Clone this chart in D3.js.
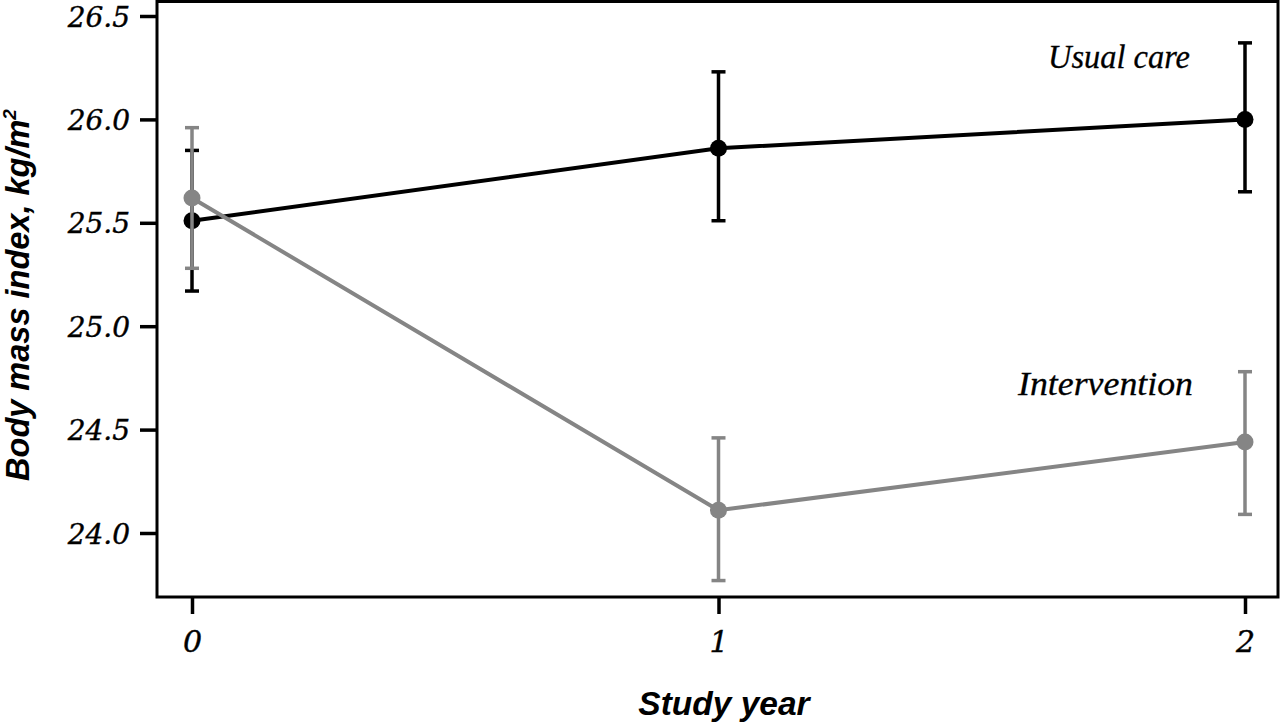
<!DOCTYPE html>
<html>
<head>
<meta charset="utf-8">
<script src="https://cdn.jsdelivr.net/npm/d3@7"></script>
<style>
  html, body { margin: 0; padding: 0; background: #fff; }
  svg { display: block; }
</style>
</head>
<body>
<svg id="chart" width="1280" height="723"></svg>
<script>
// ---- data ----
const years = [0, 1, 2];
const usualMean = [25.51, 25.86, 26.00];
const usualLow  = [25.17, 25.51, 25.65];
const usualHigh = [25.85, 26.23, 26.37];
const interMean = [25.62, 24.11, 24.44];
const interLow  = [25.28, 23.77, 24.09];
const interHigh = [25.96, 24.46, 24.78];
const yTickValues = [24.0, 24.5, 25.0, 25.5, 26.0, 26.5];
const xTickValues = [0, 1, 2];
const seriesNames = ["Usual care", "Intervention"];

const svg = d3.select("#chart");

const frame = { left: 157, right: 1278, top: 1.5, bottom: 597 };
const x = d3.scaleLinear().domain([0, 2]).range([192, 1245]);
const y = d3.scaleLinear().domain([24, 26.5]).range([533, 16]);

// frame
svg.append("rect")
  .attr("x", frame.left).attr("y", frame.top)
  .attr("width", frame.right - frame.left).attr("height", frame.bottom - frame.top)
  .attr("fill", "none").attr("stroke", "#000").attr("stroke-width", 3);

// y axis
const yAxis = d3.axisLeft(y).tickValues(yTickValues).tickFormat(d3.format(".1f"))
  .tickSize(17).tickPadding(10);
const gy = svg.append("g").attr("transform", `translate(${frame.left},0)`).call(yAxis);
gy.select(".domain").remove();
gy.selectAll(".tick line").attr("stroke", "#000").attr("stroke-width", 3.5);
gy.selectAll(".tick text")
  .attr("font-family", "DejaVu Serif").attr("font-style", "italic")
  .attr("font-size", 28).attr("fill", "#000").attr("dy", "0.36em")
  .attr("stroke", "#000").attr("stroke-width", 0.4);

// x axis
const xAxis = d3.axisBottom(x).tickValues(xTickValues).tickFormat(d3.format("d"))
  .tickSize(17).tickPadding(14);
const gx = svg.append("g").attr("transform", `translate(0,${frame.bottom})`).call(xAxis);
gx.select(".domain").remove();
gx.selectAll(".tick line").attr("stroke", "#000").attr("stroke-width", 3.5);
gx.selectAll(".tick text")
  .attr("font-family", "DejaVu Serif").attr("font-style", "italic")
  .attr("font-size", 30).attr("fill", "#000").attr("dy", "0.8em")
  .attr("stroke", "#000").attr("stroke-width", 0.4);

// series
function drawSeries(means, lows, highs, color, lw) {
  const g = svg.append("g");
  const pts = years.map((yr, i) => ({ yr, m: means[i], lo: lows[i], hi: highs[i] }));
  g.append("path")
    .datum(pts)
    .attr("d", d3.line().x(d => x(d.yr)).y(d => y(d.m)))
    .attr("fill", "none").attr("stroke", color).attr("stroke-width", lw);
  g.selectAll(".eb").data(pts).enter().append("line")
    .attr("x1", d => x(d.yr)).attr("x2", d => x(d.yr))
    .attr("y1", d => y(d.lo)).attr("y2", d => y(d.hi))
    .attr("stroke", color).attr("stroke-width", 3.5);
  g.selectAll(".capHi").data(pts).enter().append("line")
    .attr("x1", d => x(d.yr) - 7).attr("x2", d => x(d.yr) + 7)
    .attr("y1", d => y(d.hi)).attr("y2", d => y(d.hi))
    .attr("stroke", color).attr("stroke-width", 3.5);
  g.selectAll(".capLo").data(pts).enter().append("line")
    .attr("x1", d => x(d.yr) - 7).attr("x2", d => x(d.yr) + 7)
    .attr("y1", d => y(d.lo)).attr("y2", d => y(d.lo))
    .attr("stroke", color).attr("stroke-width", 3.5);
  g.selectAll("circle").data(pts).enter().append("circle")
    .attr("cx", d => x(d.yr)).attr("cy", d => y(d.m)).attr("r", 8.5)
    .attr("fill", color);
}
drawSeries(usualMean, usualLow, usualHigh, "#000", 4);
drawSeries(interMean, interLow, interHigh, "#858585", 4);

// series labels
svg.append("text").text(seriesNames[0])
  .attr("x", 1190).attr("y", 68).attr("text-anchor", "end")
  .attr("font-family", "Liberation Serif").attr("font-style", "italic")
  .attr("font-size", 34).attr("textLength", 142).attr("lengthAdjust", "spacingAndGlyphs")
  .attr("fill", "#000").attr("stroke", "#000").attr("stroke-width", 0.3);
svg.append("text").text(seriesNames[1])
  .attr("x", 1193).attr("y", 395).attr("text-anchor", "end")
  .attr("font-family", "Liberation Serif").attr("font-style", "italic")
  .attr("font-size", 34).attr("textLength", 175).attr("lengthAdjust", "spacingAndGlyphs")
  .attr("fill", "#000").attr("stroke", "#000").attr("stroke-width", 0.3);

// axis titles
svg.append("text").text("Study year")
  .attr("x", 724).attr("y", 715).attr("text-anchor", "middle")
  .attr("font-family", "Liberation Sans").attr("font-weight", "bold").attr("font-style", "italic")
  .attr("font-size", 33.5).attr("fill", "#000");

const yt = svg.append("text")
  .attr("transform", "translate(29,295) rotate(-90)")
  .attr("text-anchor", "middle")
  .attr("font-family", "Liberation Sans").attr("font-weight", "bold").attr("font-style", "italic")
  .attr("font-size", 32.5).attr("fill", "#000");
yt.append("tspan").text("Body mass index,  kg/m");
yt.append("tspan").text("2").attr("font-size", 19).attr("dy", -13);
</script>
</body>
</html>
